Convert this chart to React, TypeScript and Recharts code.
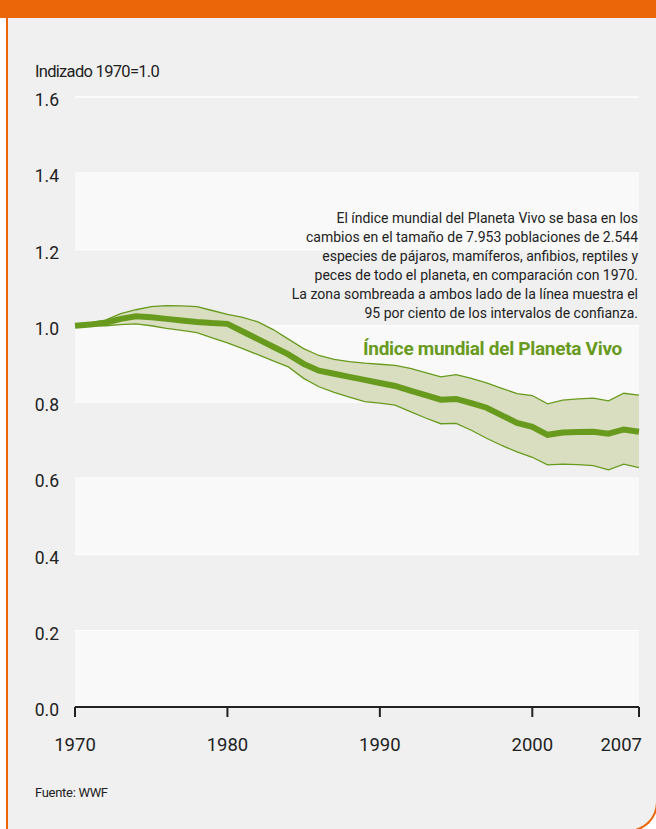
import React from "react";
import { ComposedChart, Area, Line, XAxis, YAxis, CartesianGrid, ReferenceArea } from "recharts";

const years = [
  1970, 1971, 1972, 1973, 1974, 1975, 1976, 1977, 1978, 1979,
  1980, 1981, 1982, 1983, 1984, 1985, 1986, 1987, 1988, 1989,
  1990, 1991, 1992, 1993, 1994, 1995, 1996, 1997, 1998, 1999,
  2000, 2001, 2002, 2003, 2004, 2005, 2006, 2007,
];
const indexValues = [
  1.0, 1.003, 1.008, 1.018, 1.025, 1.022, 1.018, 1.014, 1.01, 1.007,
  1.005, 0.985, 0.965, 0.945, 0.925, 0.9, 0.882, 0.874, 0.866, 0.858,
  0.85, 0.842, 0.83, 0.818, 0.806, 0.808, 0.797, 0.785, 0.765, 0.745,
  0.735, 0.714, 0.72, 0.721, 0.722, 0.717, 0.728, 0.722,
];
const upperValues = [
  1.0, 1.008, 1.015, 1.032, 1.042, 1.05, 1.053, 1.052, 1.05, 1.04,
  1.03, 1.022, 1.01, 0.99, 0.965, 0.94, 0.922, 0.912, 0.906, 0.902,
  0.899, 0.896, 0.888, 0.877, 0.866, 0.872, 0.862, 0.85, 0.836, 0.822,
  0.817, 0.795, 0.805, 0.808, 0.81, 0.803, 0.823, 0.818,
];
const lowerValues = [
  1.0, 1.0, 1.0, 1.003, 1.005, 1.0, 0.993, 0.988, 0.982, 0.968,
  0.955, 0.94, 0.924, 0.908, 0.892, 0.862, 0.84, 0.825, 0.813, 0.801,
  0.797, 0.792, 0.775, 0.758, 0.743, 0.744, 0.726, 0.705, 0.686, 0.669,
  0.655, 0.635, 0.637, 0.636, 0.633, 0.622, 0.637, 0.628,
];
const yTicks = [0, 0.2, 0.4, 0.6, 0.8, 1.0, 1.2, 1.4, 1.6];
const xTicks = [1970, 1980, 1990, 2000, 2007];
const lightBands = [[0, 0.2], [0.4, 0.6], [0.8, 1.0], [1.2, 1.4]];
const noteLines = [
  "El índice mundial del Planeta Vivo se basa en los",
  "cambios en el tamaño de 7.953 poblaciones de 2.544",
  "especies de pájaros, mamíferos, anfibios, reptiles y",
  "peces de todo el planeta, en comparación con 1970.",
  "La zona sombreada a ambos lado de la línea muestra el",
  "95 por ciento de los intervalos de confianza.",
];

const ORANGE = "#eb6608";
const GREEN = "#689a1e";
const FONT = "Roboto, 'Noto Sans', sans-serif";

const data = years.map((y, i) => ({
  year: y,
  index: indexValues[i],
  band: [lowerValues[i], upperValues[i]],
}));

// last year label sits left of its tick so it stays inside the panel
const YearTick = (props: any) => {
  const { x, y, payload } = props;
  const last = payload.value === 2007;
  return (
    <text
      x={last ? x + 3 : x}
      y={y}
      dy="0.71em"
      textAnchor={last ? "end" : "middle"}
      fill="#222"
      fontSize={18.5}
      fontFamily={FONT}
    >
      {payload.value}
    </text>
  );
};

export default function App() {
  return (
    <div style={{ position: "absolute", left: 0, top: 0, width: 656, height: 829, overflow: "hidden", background: "#fff", fontFamily: FONT }}>
      {/* panel with orange frame */}
      <div style={{
        position: "absolute", left: 6, top: 0, width: 652, height: 832, boxSizing: "border-box",
        background: "#f0f0f0", borderLeft: `2px solid ${ORANGE}`, borderRight: `2px solid ${ORANGE}`,
        borderBottom: `2px solid ${ORANGE}`, borderBottomRightRadius: 30,
      }} />
      <div style={{ position: "absolute", left: 0, top: 0, width: 656, height: 18, background: ORANGE }} />

      <div style={{ position: "absolute", left: 35, top: 62, fontSize: 16.5, letterSpacing: -0.7, color: "#222" }}>Indizado 1970=1.0</div>

      <div style={{ position: "absolute", left: 0, top: 0 }}>
        <ComposedChart width={656} height={829} data={data} margin={{ top: 97, right: 17, left: 35, bottom: 82 }}>
          {lightBands.map(([a, b]) => (
            <ReferenceArea key={a} y1={a} y2={b} fill="#f9f9f9" fillOpacity={1} stroke="none" />
          ))}
          <CartesianGrid vertical={false} stroke="#ffffff" strokeWidth={1.5} />
          <XAxis
            dataKey="year"
            type="number"
            domain={[1970, 2007]}
            ticks={xTicks}
            axisLine={{ stroke: "#222", strokeWidth: 2 }}
            tickLine={{ stroke: "#222", strokeWidth: 2 }}
            tickSize={10}
            tickMargin={21}
            height={40}
            tick={<YearTick />}
          />
          <YAxis
            type="number"
            domain={[0, 1.6]}
            ticks={yTicks}
            axisLine={false}
            tickLine={false}
            tickSize={0}
            tickMargin={16}
            width={40}
            tickFormatter={(v: number) => v.toFixed(1)}
            tick={{ fill: "#222", fontSize: 17.5, fontFamily: FONT, dy: 3 }}
          />
          <Area
            dataKey="band"
            type="linear"
            fill="#d9dec0"
            fillOpacity={1}
            stroke={GREEN}
            strokeWidth={1.3}
            isAnimationActive={false}
            dot={false}
            activeDot={false}
          />
          <Line
            dataKey="index"
            type="linear"
            stroke={GREEN}
            strokeWidth={6}
            dot={false}
            activeDot={false}
            isAnimationActive={false}
          />
        </ComposedChart>
      </div>

      <div style={{ position: "absolute", right: 18, top: 209, textAlign: "right", fontSize: 14, lineHeight: "19px", color: "#222", whiteSpace: "nowrap" }}>
        {noteLines.map((l) => (
          <div key={l}>{l}</div>
        ))}
      </div>
      <div style={{ position: "absolute", right: 34, top: 337, fontSize: 19, fontWeight: 700, letterSpacing: -0.3, color: GREEN, whiteSpace: "nowrap" }}>
        Índice mundial del Planeta Vivo
      </div>

      <div style={{ position: "absolute", left: 35, top: 785, fontSize: 13, letterSpacing: -0.3, color: "#222" }}>Fuente: WWF</div>
    </div>
  );
}
